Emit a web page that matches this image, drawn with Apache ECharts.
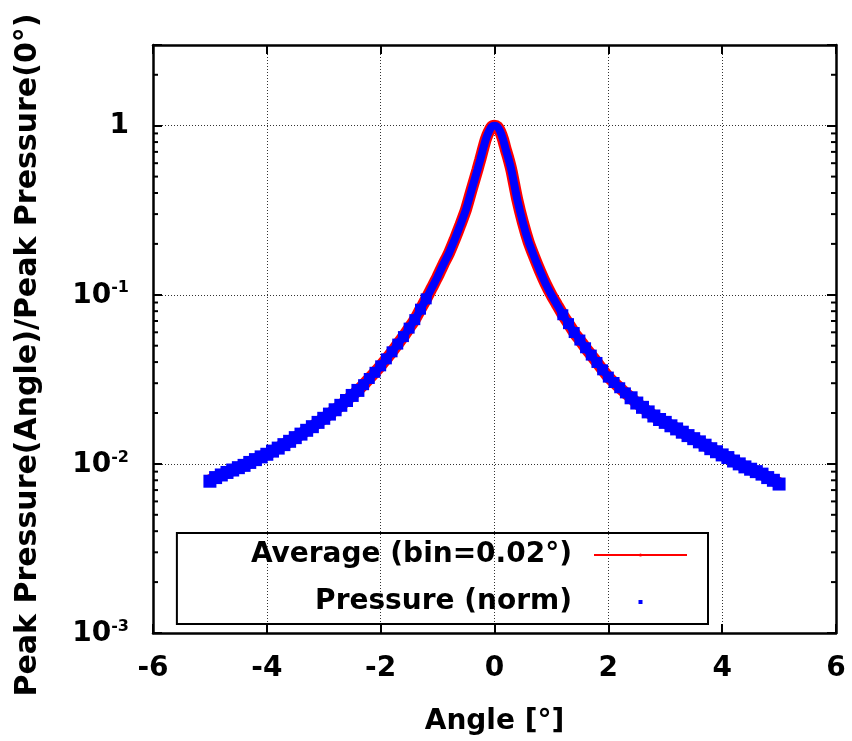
<!DOCTYPE html>
<html>
<head>
<meta charset="utf-8">
<script src="https://cdn.jsdelivr.net/npm/echarts@6/dist/echarts.min.js"></script>
<style>
html,body{margin:0;padding:0;background:#fff;}
#chart{width:852px;height:741px;}
</style>
</head>
<body>
<div id="chart"></div>
<script>
// ---- data ----
const angles = [
  -5.0,-4.9,-4.8,-4.7,-4.6,-4.5,-4.4,-4.3,-4.2,-4.1,
  -4.0,-3.9,-3.8,-3.7,-3.6,-3.5,-3.4,-3.3,-3.2,-3.1,
  -3.0,-2.9,-2.8,-2.7,-2.6,-2.5,-2.4,-2.3,-2.2,-2.1,
  -2.0,-1.9,-1.8,-1.7,-1.6,-1.5,-1.4,-1.3,-1.2,-1.1,
  -1.0,-0.9,-0.8,-0.7,-0.6,-0.5,-0.4,-0.3,-0.25,-0.2,-0.15,-0.1,-0.05,
  0,
  0.05,0.1,0.15,0.2,0.25,0.3,0.4,0.5,0.6,0.7,0.8,0.9,
  1.0,1.1,1.2,1.3,1.4,1.5,1.6,1.7,1.8,1.9,
  2.0,2.1,2.2,2.3,2.4,2.5,2.6,2.7,2.8,2.9,
  3.0,3.1,3.2,3.3,3.4,3.5,3.6,3.7,3.8,3.9,
  4.0,4.1,4.2,4.3,4.4,4.5,4.6,4.7,4.8,4.9,5.0];
const averageValues = [
  0.0080,0.0083,0.0086,0.0089,0.0092,0.0095,0.0098,0.0102,0.0106,0.0110,
  0.0114,0.0119,0.0124,0.0130,0.0136,0.0143,0.0150,0.0158,0.0166,0.0176,
  0.0186,0.0197,0.0209,0.0222,0.0237,0.0254,0.0272,0.0294,0.0320,0.0348,
  0.0380,0.0418,0.0460,0.0511,0.0566,0.0635,0.0713,0.0822,0.0946,0.110,
  0.128,0.151,0.176,0.212,0.259,0.320,0.420,0.548,0.630,0.730,0.835,0.920,0.985,
  1.0,
  0.985,0.925,0.830,0.720,0.630,0.540,0.366,0.267,0.205,0.167,0.138,0.116,
  0.0997,0.0871,0.0762,0.0675,0.0598,0.0540,0.0486,0.0440,0.0398,0.0360,
  0.0326,0.0303,0.0282,0.0263,0.0246,0.0229,0.0216,0.0203,0.0192,0.0183,
  0.0176,0.0168,0.0161,0.0154,0.0147,0.0141,0.0135,0.0129,0.0123,0.0118,
  0.0113,0.0109,0.0104,0.0100,0.0096,0.0093,0.0090,0.0087,0.0083,0.0080,0.0077];
const pressureValues = [
  0.0079,0.0083,0.0086,0.0089,0.0092,0.0095,0.0098,0.0102,0.0106,0.0110,
  0.0114,0.0119,0.0124,0.0130,0.0136,0.0143,0.0150,0.0158,0.0166,0.0176,
  0.0186,0.0197,0.0209,0.0222,0.0237,0.0254,0.0272,0.0294,0.0320,0.0348,
  0.0380,0.0418,0.0460,0.0511,0.0566,0.0635,0.0713,0.0822,0.0946,0.110,
  0.128,0.151,0.176,0.212,0.259,0.320,0.420,0.548,0.630,0.730,0.835,0.920,0.985,
  1.0,
  0.985,0.925,0.830,0.720,0.630,0.540,0.366,0.267,0.205,0.167,0.138,0.116,
  0.0997,0.0871,0.0762,0.0675,0.0598,0.0540,0.0486,0.0440,0.0398,0.0360,
  0.0326,0.0303,0.0282,0.0263,0.0246,0.0229,0.0216,0.0203,0.0192,0.0183,
  0.0176,0.0168,0.0161,0.0154,0.0147,0.0141,0.0135,0.0129,0.0123,0.0118,
  0.0113,0.0109,0.0104,0.0100,0.0096,0.0093,0.0090,0.0087,0.0083,0.0080,0.0076];
const xTicks = [-6, -4, -2, 0, 2, 4, 6];
const minorTickValues = [0.002,0.003,0.004,0.005,0.006,0.007,0.008,0.009,
  0.02,0.03,0.04,0.05,0.06,0.07,0.08,0.09,
  0.2,0.3,0.4,0.5,0.6,0.7,0.8,0.9,
  2];
const seriesNames = ['Average (bin=0.02°)', 'Pressure (norm)'];
const xTitle = 'Angle [°]';
const yTitle = 'Peak Pressure(Angle)/Peak Pressure(0°)';

// ---- chart ----
const FONT = 'DejaVu Sans';
const xMin = xTicks[0], xMax = xTicks[xTicks.length - 1];
const yMin = 0.001, yMax = 3;
const gridDash = {color: '#333', width: 1, type: [1, 2]};

function yLabel(v) {
  const l = Math.log10(v);
  const e = Math.round(l);
  if (Math.abs(l - e) > 1e-6) return '';
  if (e === 0) return '{b|1}';
  return '{b|10}{s|' + e + '}';
}

const chart = echarts.init(document.getElementById('chart'), null, {renderer: 'canvas'});
chart.setOption({
  animation: false,
  backgroundColor: '#fff',
  textStyle: {fontFamily: FONT, fontWeight: 'bold', color: '#000'},
  grid: {left: 153, right: 16, top: 45, bottom: 108, containLabel: false},
  legend: {
    orient: 'vertical', align: 'right',
    right: 144, top: 533,
    padding: [8, 20, 8, 74],
    borderColor: '#000', borderWidth: 2,
    itemWidth: 93, itemHeight: 4, itemGap: 19,
    selectedMode: false,
    lineStyle: {width: 2},
    textStyle: {fontFamily: FONT, fontWeight: 'bold', fontSize: 28, color: '#000', padding: [0, 17, 0, 0]},
    data: [
      {name: seriesNames[0]},
      {name: seriesNames[1], icon: 'path://M0,0H1V1H0Z'}
    ]
  },
  xAxis: [{
    type: 'value', min: xMin, max: xMax, interval: 2,
    name: xTitle, nameLocation: 'middle', nameGap: 75,
    nameTextStyle: {fontFamily: FONT, fontWeight: 'bold', fontSize: 28, color: '#000'},
    axisLine: {onZero: false, lineStyle: {color: '#000', width: 2.5}},
    axisTick: {inside: true, length: 9, lineStyle: {color: '#000', width: 2}},
    axisLabel: {margin: 22, fontFamily: FONT, fontWeight: 'bold', fontSize: 28, color: '#000'},
    splitLine: {show: true, lineStyle: gridDash}
  }, {
    type: 'value', position: 'top', min: xMin, max: xMax, interval: 2,
    axisLine: {onZero: false, lineStyle: {color: '#000', width: 2.5}},
    axisTick: {inside: true, length: 9, lineStyle: {color: '#000', width: 2}},
    axisLabel: {show: false}, splitLine: {show: false}
  }],
  yAxis: [{
    type: 'log', logBase: 10, min: yMin, max: yMax,
    name: yTitle, nameLocation: 'middle', nameGap: 110,
    nameTextStyle: {fontFamily: FONT, fontWeight: 'bold', fontSize: 30, color: '#000', padding: [0, 32, 0, 0]},
    axisLine: {onZero: false, lineStyle: {color: '#000', width: 2.5}},
    axisTick: {inside: true, length: 9, lineStyle: {color: '#000', width: 2}},
    axisLabel: {
      margin: 24, formatter: yLabel,
      rich: {
        b: {fontFamily: FONT, fontWeight: 'bold', fontSize: 28, color: '#000', verticalAlign: 'bottom'},
        s: {fontFamily: FONT, fontWeight: 'bold', fontSize: 16, color: '#000', verticalAlign: 'bottom', padding: [0, 0, 13, 0]}
      }
    },
    splitLine: {show: true, lineStyle: gridDash}
  }, {
    type: 'log', logBase: 10, min: yMin, max: yMax, position: 'right',
    axisLine: {onZero: false, lineStyle: {color: '#000', width: 2.5}},
    axisTick: {inside: true, length: 9, lineStyle: {color: '#000', width: 2}},
    axisLabel: {show: false}, splitLine: {show: false}
  }],
  series: [{
    name: seriesNames[0], type: 'line',
    xAxisIndex: 0, yAxisIndex: 0,
    data: angles.map((a, i) => [a, averageValues[i]]),
    symbol: 'none', smooth: 0.2,
    lineStyle: {color: '#ff0000', width: 12, cap: 'butt'},
    itemStyle: {color: '#ff0000'},
    emphasis: {disabled: true}, z: 2
  }, {
    name: seriesNames[1], type: 'line',
    xAxisIndex: 0, yAxisIndex: 0,
    data: angles.map((a, i) => [a, pressureValues[i]]),
    symbol: 'rect', showSymbol: true, showAllSymbol: true,
    symbolSize: (v) => Math.abs(v[0]) >= 2.4 ? 13 : (Math.abs(v[0]) >= 1.2 ? 11 : 0),
    smooth: 0.2,
    lineStyle: {color: '#0000ff', width: 8, cap: 'butt'},
    itemStyle: {color: '#0000ff', borderWidth: 0},
    emphasis: {disabled: true}, z: 3
  }, {
    name: 'minorTicks', type: 'custom',
    xAxisIndex: 0, yAxisIndex: 0, silent: true, clip: false, z: 5,
    data: minorTickValues.map(v => [xMin, v]),
    renderItem: function (params, api) {
      const v = api.value(1);
      const pl = api.coord([xMin, v]);
      const pr = api.coord([xMax, v]);
      const st = {stroke: '#000', lineWidth: 2};
      return {type: 'group', children: [
        {type: 'line', shape: {x1: pl[0], y1: pl[1], x2: pl[0] + 5, y2: pl[1]}, style: st},
        {type: 'line', shape: {x1: pr[0], y1: pr[1], x2: pr[0] - 5, y2: pr[1]}, style: st}
      ]};
    }
  }]
});
</script>
</body>
</html>
